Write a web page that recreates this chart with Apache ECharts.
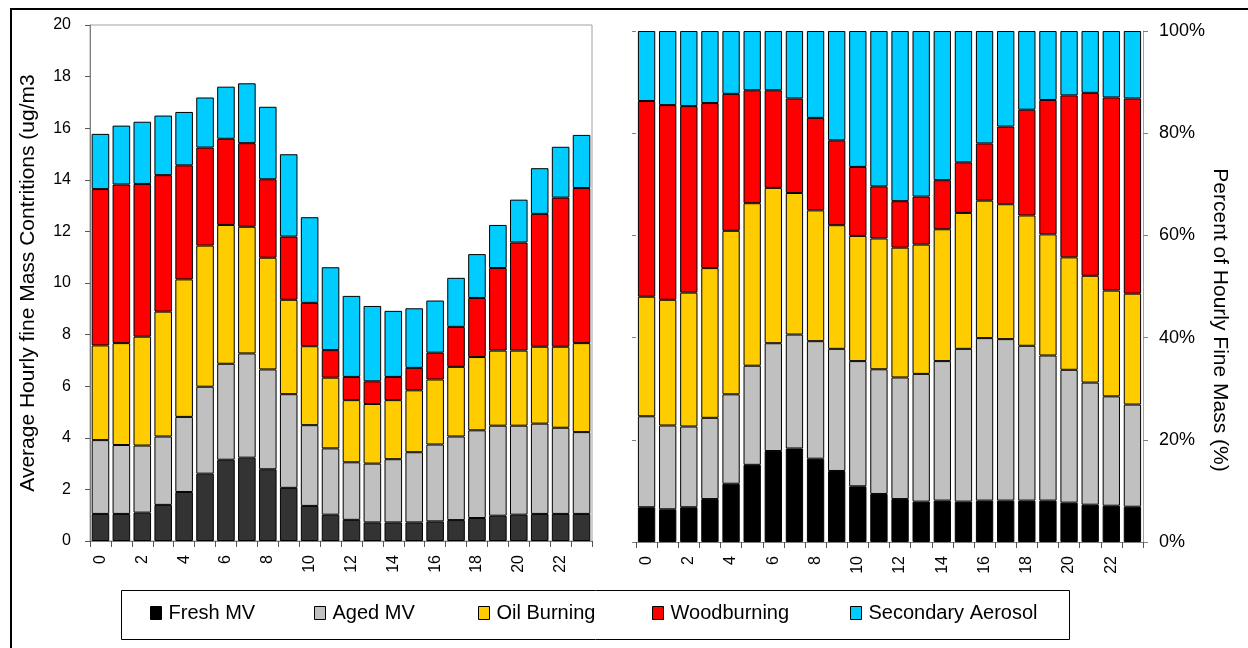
<!DOCTYPE html>
<html>
<head>
<meta charset="utf-8">
<script src="https://cdn.jsdelivr.net/npm/echarts@6/dist/echarts.min.js"></script>
<style>
html,body{margin:0;padding:0;background:#fff;}
#chart{width:1248px;height:648px;}
</style>
</head>
<body>
<div id="chart"></div>
<script>
// ---- Data ----
const hours = ['0','1','2','3','4','5','6','7','8','9','10','11','12','13','14','15','16','17','18','19','20','21','22','23'];
const seriesNames = ['Fresh MV','Aged MV','Oil Burning','Woodburning','Secondary Aerosol'];
const leftTitle = 'Average Hourly fine Mass Contritions (ug/m3';
const rightTitle = 'Percent of Hourly Fine Mass (%)';

// Left panel: average hourly fine mass contributions (ug/m3)
const freshMV          = [1.05,1.05,1.10,1.40,1.90,2.61,3.15,3.23,2.78,2.06,1.36,1.02,0.82,0.72,0.72,0.72,0.76,0.81,0.89,0.98,1.02,1.05,1.05,1.05];
const agedMV           = [2.86,2.67,2.60,2.65,2.91,3.37,3.72,4.04,3.87,3.63,3.13,2.57,2.23,2.28,2.45,2.72,2.98,3.24,3.40,3.49,3.45,3.50,3.34,3.17];
const oilBurning       = [3.67,3.95,4.22,4.84,5.33,5.47,5.38,4.91,4.33,3.66,3.06,2.74,2.41,2.31,2.29,2.40,2.52,2.70,2.84,2.91,2.91,2.98,3.14,3.45];
const woodburning      = [6.06,6.15,5.92,5.29,4.42,3.80,3.34,3.24,3.04,2.45,1.68,1.07,0.90,0.88,0.90,0.87,1.04,1.55,2.29,3.20,4.19,5.15,5.78,6.01];
const secondaryAerosol = [2.14,2.28,2.41,2.31,2.07,1.94,2.02,2.32,2.81,3.19,3.32,3.21,3.14,2.92,2.56,2.31,2.02,1.90,1.70,1.67,1.66,1.77,1.97,2.06];

// Right panel: percent of hourly fine mass (%)
const pctFreshMV          = [6.8,6.4,6.8,8.4,11.4,15.1,17.8,18.3,16.3,13.9,10.9,9.4,8.4,7.9,8.1,7.9,8.1,8.1,8.1,8.1,7.7,7.3,7.1,6.9];
const pctAgedMV           = [17.8,16.4,15.8,15.9,17.5,19.4,21.1,22.3,23.0,23.9,24.5,24.4,23.8,25.0,27.3,29.9,31.8,31.6,30.3,28.4,26.0,23.9,21.4,20.0];
const pctOilBurning       = [23.4,24.6,26.2,29.3,32.0,31.8,30.4,27.7,25.6,24.2,24.5,25.6,25.4,25.3,25.8,26.6,26.9,26.4,25.5,23.7,22.0,20.9,20.7,21.7];
const pctWoodburning      = [38.3,38.1,36.5,32.3,26.8,22.1,19.1,18.5,18.1,16.6,13.5,10.2,9.1,9.4,9.6,9.9,11.2,15.2,20.7,26.3,31.7,35.8,37.8,38.2];
const pctSecondaryAerosol = [13.7,14.5,14.7,14.1,12.3,11.6,11.6,13.2,17.0,21.4,26.6,30.4,33.3,32.4,29.2,25.7,22.0,18.7,15.4,13.5,12.6,12.1,13.0,13.2];

const leftTicks = {min:0, max:20, interval:2};
const rightTicks = {min:0, max:100, interval:20};

// ---- Styles ----
const FONT = "'Liberation Sans', Arial, sans-serif";
const leftColors  = ['#333333','#C0C0C0','#FFCC00','#FF0000','#00CCFF'];
const rightColors = ['#000000','#C0C0C0','#FFCC00','#FF0000','#00CCFF'];
const legendLeft = [150, 314, 478, 652, 850];

const leftData = [freshMV, agedMV, oilBurning, woodburning, secondaryAerosol];
const rightData = [pctFreshMV, pctAgedMV, pctOilBurning, pctWoodburning, pctSecondaryAerosol];

const series = [];
seriesNames.forEach((n,i)=>{
  series.push({
    name:n, type:'bar', stack:'L', xAxisIndex:0, yAxisIndex:0,
    data:leftData[i], barCategoryGap:'16%',
    itemStyle:{color:leftColors[i], borderColor:'#000', borderWidth:1}
  });
});
seriesNames.forEach((n,i)=>{
  series.push({
    name:n, type:'bar', stack:'R', xAxisIndex:1, yAxisIndex:1,
    data:rightData[i], barCategoryGap:'18%',
    itemStyle:{color:rightColors[i], borderColor:'#000', borderWidth:1}
  });
});

const xAxisCommon = {
  type:'category', data:hours, boundaryGap:true,
  axisLine:{show:true, lineStyle:{color:'#808080', width:1}},
  axisTick:{show:true, interval:0, length:6, lineStyle:{color:'#555'}},
  axisLabel:{interval:1, rotate:90, margin:14, color:'#000', fontFamily:FONT, fontSize:16}
};

const legends = seriesNames.map((n,i)=>({
  data:[{name:n, itemStyle:{color:rightColors[i], borderColor:'#000', borderWidth:1}}],
  left:legendLeft[i], top:603, padding:0,
  icon:'rect', itemWidth:11, itemHeight:13, itemGap:6,
  textStyle:{fontFamily:FONT, fontSize:20, color:'#000', padding:[0,0,0,2]},
  selectedMode:false
}));

const option = {
  animation:false,
  backgroundColor:'#fff',
  textStyle:{fontFamily:FONT},
  grid:[
    {left:90, right:656, top:25, bottom:107, show:true, borderColor:'#a0a0a0', borderWidth:1, backgroundColor:'transparent'},
    {left:636, right:105, top:31, bottom:106}
  ],
  xAxis:[
    Object.assign({gridIndex:0}, xAxisCommon),
    Object.assign({gridIndex:1}, xAxisCommon)
  ],
  yAxis:[
    {type:'value', gridIndex:0, min:leftTicks.min, max:leftTicks.max, interval:leftTicks.interval,
     splitLine:{show:false},
     axisLine:{show:true, lineStyle:{color:'#808080'}},
     axisTick:{show:true, length:5, lineStyle:{color:'#555'}},
     axisLabel:{margin:19, color:'#000', fontFamily:FONT, fontSize:16},
     name:leftTitle, nameLocation:'middle', nameGap:51,
     nameTextStyle:{fontFamily:FONT, fontSize:21, color:'#000'}},
    {type:'value', gridIndex:1, position:'right', min:rightTicks.min, max:rightTicks.max, interval:rightTicks.interval,
     splitLine:{show:false},
     axisLine:{show:true, lineStyle:{color:'#a0a0a0'}},
     axisTick:{show:true, length:5, lineStyle:{color:'#808080'}},
     axisLabel:{margin:16, color:'#000', fontFamily:FONT, fontSize:18, formatter:'{value}%'}},
    {type:'value', gridIndex:1, position:'left', min:rightTicks.min, max:rightTicks.max, interval:rightTicks.interval,
     splitLine:{show:false},
     axisLine:{show:false},
     axisTick:{show:true, length:4, lineStyle:{color:'#808080'}},
     axisLabel:{show:false}}
  ],
  legend:legends,
  graphic:[
    {type:'rect', shape:{x:11, y:9, width:1260, height:660}, style:{fill:null, stroke:'#000', lineWidth:2}, silent:true, z:100},
    {type:'rect', shape:{x:121.5, y:590.5, width:948, height:49}, style:{fill:null, stroke:'#000', lineWidth:1}, silent:true, z:100},
    {type:'text', x:1220, y:320, rotation:-Math.PI/2,
     style:{text:rightTitle, fontFamily:FONT, fontSize:21, fill:'#000', align:'center', verticalAlign:'middle'}, silent:true}
  ],
  series:series
};

const chart = echarts.init(document.getElementById('chart'), null, {renderer:'canvas'});
chart.setOption(option);
</script>
</body>
</html>
